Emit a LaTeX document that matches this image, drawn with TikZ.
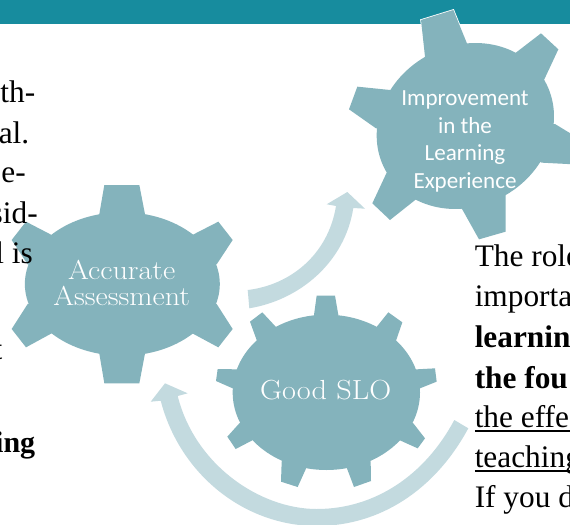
\documentclass[tikz,border=0pt]{standalone}
\usepackage{fontspec}
\setmainfont{Liberation Serif}
\newfontfamily\calibrilike{Carlito}
\newfontfamily\lmwide[FakeStretch=1.1]{Latin Modern Roman}
\definecolor{bandc}{HTML}{178C9E}
\definecolor{gearc}{HTML}{84B3BC}
\definecolor{arrowc}{HTML}{C3DADF}
\newcommand{\bodyfont}{\fontsize{23.5pt}{26pt}\selectfont}
\newcommand{\leftboldfont}{\fontsize{22.5pt}{24pt}\selectfont\bfseries}
\tikzset{
  bodytext/.style={font=\bodyfont, text=black, inner sep=0pt},
  boldtext/.style={font=\bodyfont\bfseries},
  leftline/.style={bodytext, anchor=base east},
  leftbold/.style={font=\leftboldfont},
  rightline/.style={bodytext, anchor=base west},
  halo/.style={draw=white, line width=1.2pt, line join=miter},
  gearfill/.style={fill=gearc},
  curvearrow/.style={fill=arrowc},
  gearlabel/.style={text=white, align=center, inner sep=0pt, anchor=center}
}
\newcommand{\gearOneBody}{(367,342) circle[x radius=73.1pt, y radius=53.8pt]}
\newcommand{\gearOneTeeth}{
  (313,45)--(418,45)--(436,138)--(367,342)--(297,138)--cycle
  (577,195)--(655,155)--(698,210)--(650,283)--(367,342)--cycle
  (650,402)--(698,477)--(655,532)--(577,490)--(367,342)--cycle
  (436,545)--(418,640)--(313,640)--(297,545)--(367,342)--cycle
  (155,490)--(78,532)--(35,477)--(83,402)--(367,342)--cycle
  (83,283)--(35,210)--(78,155)--(155,195)--(367,342)--cycle
}
\newcommand{\gearTwoBody}{(559,337) circle[x radius=70.25pt, y radius=58.25pt]}
\newcommand{\gearTwoTeeth}{
  (522,105)--(530,47)--(585,47)--(595,105)--(559,337)--cycle
  (712,138)--(745,97)--(787,127)--(768,182)--(559,337)--cycle
  (830,268)--(885,265)--(890,305)--(840,325)--(559,337)--cycle
  (820,430)--(855,475)--(833,505)--(782,482)--(559,337)--cycle
  (692,545)--(693,603)--(642,621)--(622,568)--(559,337)--cycle
  (497,568)--(473,621)--(423,605)--(425,545)--(559,337)--cycle
  (335,482)--(287,507)--(262,470)--(298,430)--(559,337)--cycle
  (278,325)--(228,303)--(233,267)--(290,268)--(559,337)--cycle
  (350,180)--(330,125)--(367,97)--(407,140)--(559,337)--cycle
}
\newcommand{\gearThreeBody}{(376,378) circle[x radius=68.5pt, y radius=60pt, rotate=30]}
\newcommand{\gearThreeTeeth}{
  (255,170)--(243,60)--(340,30)--(382,133)--(376,378)--cycle
  (525,160)--(603,100)--(655,148)--(612,240)--(376,378)--cycle
  (645,372)--(740,430)--(740,495)--(605,488)--(376,378)--cycle
  (497,585)--(497,695)--(417,718)--(365,625)--(376,378)--cycle
  (228,598)--(150,660)--(97,610)--(140,518)--(376,378)--cycle
  (108,385)--(27,328)--(52,260)--(150,270)--(376,378)--cycle
}
\begin{document}
\begin{tikzpicture}[x=0.75pt,y=-0.75pt]
\useasboundingbox (0,0) rectangle (570,524);
\clip (0,0) rectangle (570,524);
% header band
\fill[bandc] (0,0) rectangle (570,24);
% gears: white halo first, fill above
\begin{scope}[shift={(0,170)},x=0.25pt,y=-0.25pt]
  \draw[halo] \gearOneBody; \draw[halo] \gearOneTeeth;
  \fill[gearfill] \gearOneBody; \fill[gearfill] \gearOneTeeth;
\end{scope}
\begin{scope}[shift={(140,280)},x=0.25pt,y=-0.25pt]
  \draw[halo] \gearTwoBody; \draw[halo] \gearTwoTeeth;
  \fill[gearfill] \gearTwoBody; \fill[gearfill] \gearTwoTeeth;
\end{scope}
\begin{scope}[shift={(340,0)},x=0.25pt,y=-0.25pt]
  \draw[halo] \gearThreeBody; \draw[halo] \gearThreeTeeth;
  \fill[gearfill] \gearThreeBody; \fill[gearfill] \gearThreeTeeth;
\end{scope}
% curved block arrows
\fill[curvearrow] (247.7,290) .. controls (290,285) and (328,255) .. (336,206)
  -- (326.7,204.3) -- (347.3,192) -- (365,208.7) -- (353.3,208)
  .. controls (345,262) and (300,300) .. (249.3,308.3) -- cycle;
\fill[curvearrow] (454.3,420) .. controls (425,475) and (375,509) .. (316.7,509)
  .. controls (260,509) and (195,465) .. (177.7,396)
  -- (187.7,393.3) -- (165,383.3) -- (150.7,401.7) -- (160.7,400.7)
  .. controls (180,475) and (245,526) .. (316.7,526)
  .. controls (380,526) and (435,490) .. (468.3,428.3) -- cycle;
% gear labels
\node[gearlabel, font={\calibrilike\fontsize{17.3pt}{20.8pt}\selectfont}] (improve) at (465,141.5)
  {Improvement\\in the\\Learning\\Experience};
\node[gearlabel, font={\lmwide\fontsize{20.5pt}{20pt}\selectfont}] (assess) at (121.7,283)
  {Accurate\\Assessment};
\node[gearlabel, font={\lmwide\fontsize{20.7pt}{24pt}\selectfont}] (slo) at (325.7,390.5)
  {Good SLO};
% left column text
\node[leftline] (l1) at (35.5,103) {th-};
\node[leftline] (l2) at (29.5,143) {al.};
\node[leftline] (l3) at (26,182) {e-};
\node[leftline] (l4) at (38,223) {sid-};
\node[leftline] (l5) at (33,263) {l is};
\node[leftline] (l6) at (2.7,359) {t};
\node[leftline, leftbold] (l7) at (35.5,452.5) {ing};
% right column text
\node[rightline] (r1) at (474.5,266.5) {The role};
\node[rightline] (r2) at (474.5,306.5) {importa};
\node[rightline, boldtext] (r3) at (474.5,347.5) {learnin};
\node[rightline, boldtext] (r4) at (474.5,388) {the fou};
\node[rightline] (r5) at (474.5,427.5) {\rlap{\rule[-3.3pt]{80pt}{1.1pt}}the effe};
\node[rightline] (r6) at (474.5,467.5) {\rlap{\rule[-3.3pt]{80pt}{1.1pt}}teaching};
\node[rightline] (r7) at (474.5,507) {If you d};
\end{tikzpicture}
\end{document}
